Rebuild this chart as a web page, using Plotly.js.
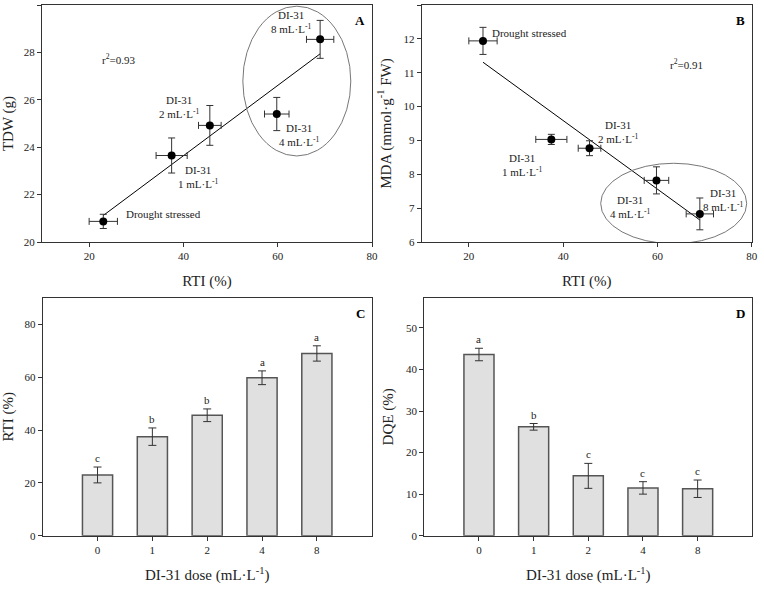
<!DOCTYPE html>
<html>
<head>
<meta charset="utf-8">
<script src="https://cdn.plot.ly/plotly-3.0.1.min.js"></script>
<style>html,body{margin:0;padding:0;background:#fff;}#chart{width:764px;height:596px;}</style>
</head>
<body>
<div id="chart"></div>
<script>
// ---- Data ----
const treatments = ['Drought stressed', 'DI-31 1 mL·L-1', 'DI-31 2 mL·L-1', 'DI-31 4 mL·L-1', 'DI-31 8 mL·L-1'];
const doseLabels = ['0', '1', '2', '4', '8'];
const rtiMean = [23.0, 37.5, 45.6, 59.8, 69.0];
const rtiErr  = [3.0, 3.3, 2.4, 2.6, 2.9];
const tdwMean = [20.87, 23.65, 24.92, 25.40, 28.55];
const tdwErr  = [0.30, 0.74, 0.84, 0.70, 0.80];
const mdaMean = [11.94, 9.03, 8.77, 7.82, 6.83];
const mdaErr  = [0.40, 0.15, 0.22, 0.40, 0.47];
const dqeMean = [43.6, 26.2, 14.4, 11.5, 11.3];
const dqeErr  = [1.5, 0.8, 3.0, 1.5, 2.1];
const rtiLetters = ['c', 'b', 'b', 'a', 'a'];
const dqeLetters = ['a', 'b', 'c', 'c', 'c'];
const fitAx = [23, 69];
const fitAy = [21.12, 27.94];
const fitBx = [23, 69];
const fitBy = [11.31, 6.65];
const r2A = '0.93';
const r2B = '0.91';

// ---- Styles ----
const FONT = "'Liberation Serif', 'Times New Roman', Times, serif";
const AX = '#333';
const DARK = '#222';

function baseAxis(extra) {
  return Object.assign({
    showline: true, linecolor: AX, linewidth: 1, mirror: true,
    ticks: 'outside', ticklen: 4, tickcolor: AX, tickwidth: 1,
    showgrid: false, zeroline: false,
    tickfont: {family: FONT, size: 11, color: DARK},
    automargin: false
  }, extra);
}

const errStyle = {type: 'data', visible: true, color: '#333', thickness: 1, width: 3.5};

const traces = [];
// Panel A
traces.push({
  type: 'scatter', mode: 'lines', x: fitAx, y: fitAy, xaxis: 'x', yaxis: 'y',
  line: {color: '#000', width: 1}, hoverinfo: 'skip', showlegend: false
});
traces.push({
  type: 'scatter', mode: 'markers', x: rtiMean, y: tdwMean, xaxis: 'x', yaxis: 'y',
  text: treatments, name: 'TDW',
  error_x: Object.assign({array: rtiErr}, errStyle),
  error_y: Object.assign({array: tdwErr}, errStyle),
  marker: {color: '#000', size: 8}, showlegend: false
});
// Panel B
traces.push({
  type: 'scatter', mode: 'lines', x: fitBx, y: fitBy, xaxis: 'x2', yaxis: 'y2',
  line: {color: '#000', width: 1}, hoverinfo: 'skip', showlegend: false
});
traces.push({
  type: 'scatter', mode: 'markers', x: rtiMean, y: mdaMean, xaxis: 'x2', yaxis: 'y2',
  text: treatments, name: 'MDA',
  error_x: Object.assign({array: rtiErr}, errStyle),
  error_y: Object.assign({array: mdaErr}, errStyle),
  marker: {color: '#000', size: 8}, showlegend: false
});
// Panel C
traces.push({
  type: 'bar', x: doseLabels, y: rtiMean, xaxis: 'x3', yaxis: 'y3', width: 0.55,
  marker: {color: '#e0e0e0', line: {color: '#555', width: 1.5}},
  error_y: Object.assign({array: rtiErr}, errStyle, {width: 4}), showlegend: false, name: 'RTI'
});
// Panel D
traces.push({
  type: 'bar', x: doseLabels, y: dqeMean, xaxis: 'x4', yaxis: 'y4', width: 0.55,
  marker: {color: '#e0e0e0', line: {color: '#555', width: 1.5}},
  error_y: Object.assign({array: dqeErr}, errStyle, {width: 4}), showlegend: false, name: 'DQE'
});

const W = 764, H = 596;
const dx = (a, b) => [a / W, b / W];
const dy = (top, bottom) => [1 - bottom / H, 1 - top / H];

const txt = (extra) => Object.assign({showarrow: false, font: {family: FONT, size: 11, color: DARK}}, extra);

const annotations = [];
// Panel A labels
annotations.push(txt({xref: 'x', yref: 'y', x: 22.4, y: 27.71, xanchor: 'left', text: 'r<sup>2</sup>=' + r2A}));
annotations.push(txt({xref: 'x', yref: 'y', x: 27.4, y: 21.2, xanchor: 'left', text: 'Drought stressed'}));
annotations.push(txt({xref: 'x', yref: 'y', x: 43.1, y: 22.75, text: 'DI-31<br>1 mL·L<sup>-1</sup>'}));
annotations.push(txt({xref: 'x', yref: 'y', x: 39.0, y: 25.68, text: 'DI-31<br>2 mL·L<sup>-1</sup>'}));
annotations.push(txt({xref: 'x', yref: 'y', x: 64.6, y: 24.52, text: 'DI-31<br>4 mL·L<sup>-1</sup>'}));
annotations.push(txt({xref: 'x', yref: 'y', x: 62.9, y: 29.3, text: 'DI-31<br>8 mL·L<sup>-1</sup>'}));
// Panel B labels
annotations.push(txt({xref: 'x2', yref: 'y2', x: 62.3, y: 11.25, xanchor: 'left', text: 'r<sup>2</sup>=' + r2B}));
annotations.push(txt({xref: 'x2', yref: 'y2', x: 24.5, y: 12.16, xanchor: 'left', text: 'Drought stressed'}));
annotations.push(txt({xref: 'x2', yref: 'y2', x: 31.2, y: 8.27, text: 'DI-31<br>1 mL·L<sup>-1</sup>'}));
annotations.push(txt({xref: 'x2', yref: 'y2', x: 51.7, y: 9.26, text: 'DI-31<br>2 mL·L<sup>-1</sup>'}));
annotations.push(txt({xref: 'x2', yref: 'y2', x: 54.2, y: 7.04, text: 'DI-31<br>4 mL·L<sup>-1</sup>'}));
annotations.push(txt({xref: 'x2', yref: 'y2', x: 74.0, y: 7.24, text: 'DI-31<br>8 mL·L<sup>-1</sup>'}));
// Significance letters (x given as category index)
doseLabels.forEach((d, i) => {
  annotations.push(txt({xref: 'x3', yref: 'y3', x: i, y: rtiMean[i] + rtiErr[i], yanchor: 'bottom', yshift: 1, text: rtiLetters[i]}));
  annotations.push(txt({xref: 'x4', yref: 'y4', x: i, y: dqeMean[i] + dqeErr[i], yanchor: 'bottom', yshift: 1, text: dqeLetters[i]}));
});
// Panel letters
const panelLetter = (t, xr, yr) => txt({xref: xr + ' domain', yref: yr + ' domain', x: 0.985, y: 0.975, xanchor: 'right', yanchor: 'top', text: '<b>' + t + '</b>', font: {family: FONT, size: 13, color: '#000'}});
annotations.push(panelLetter('A', 'x', 'y'));
annotations.push(panelLetter('B', 'x2', 'y2'));
annotations.push(panelLetter('C', 'x3', 'y3'));
annotations.push(panelLetter('D', 'x4', 'y4'));

const titleFont = {family: FONT, size: 15, color: DARK};

const layout = {
  width: W, height: H,
  margin: {l: 0, r: 0, t: 0, b: 0},
  paper_bgcolor: '#fff', plot_bgcolor: '#fff',
  showlegend: false,
  font: {family: FONT, color: DARK},
  xaxis:  baseAxis({domain: dx(42, 372), anchor: 'y', range: [10, 80], tick0: 0, dtick: 20,
                    title: {text: 'RTI (%)', font: titleFont, standoff: 14}}),
  yaxis:  baseAxis({domain: dy(5, 242), anchor: 'x', range: [20, 30], tick0: 0, dtick: 2,
                    title: {text: 'TDW (g)', font: titleFont, standoff: 8}}),
  xaxis2: baseAxis({domain: dx(421.7, 751.7), anchor: 'y2', range: [10, 80], tick0: 0, dtick: 20,
                    title: {text: 'RTI (%)', font: titleFont, standoff: 14}}),
  yaxis2: baseAxis({domain: dy(5, 242), anchor: 'x2', range: [6, 13], dtick: 1,
                    title: {text: 'MDA (mmol·g<sup>-1</sup> FW)', font: titleFont, standoff: 8}}),
  xaxis3: baseAxis({domain: dx(42.7, 371.7), anchor: 'y3', type: 'category', range: [-1, 5],
                    title: {text: 'DI-31 dose (mL·L<sup>-1</sup>)', font: titleFont, standoff: 14}}),
  yaxis3: baseAxis({domain: dy(298, 535.7), anchor: 'x3', range: [0, 90], tick0: 0, dtick: 20,
                    title: {text: 'RTI (%)', font: titleFont, standoff: 8}}),
  xaxis4: baseAxis({domain: dx(424.3, 752.3), anchor: 'y4', type: 'category', range: [-1, 5],
                    title: {text: 'DI-31 dose (mL·L<sup>-1</sup>)', font: titleFont, standoff: 14}}),
  yaxis4: baseAxis({domain: dy(298, 535.7), anchor: 'x4', range: [0, 57.2], tick0: 0, dtick: 10,
                    title: {text: 'DQE (%)', font: titleFont, standoff: 8}}),
  shapes: [
    {type: 'circle', xref: 'x', yref: 'y', x0: 52.6, x1: 75.5, y0: 23.63, y1: 29.95, line: {color: '#777', width: 1}},
    {type: 'circle', xref: 'x2', yref: 'y2', x0: 47.97, x1: 78.94, y0: 5.95, y1: 8.325, line: {color: '#777', width: 1}}
  ],
  annotations: annotations
};

Plotly.newPlot('chart', traces, layout, {displayModeBar: false, staticPlot: true});
</script>
</body>
</html>
